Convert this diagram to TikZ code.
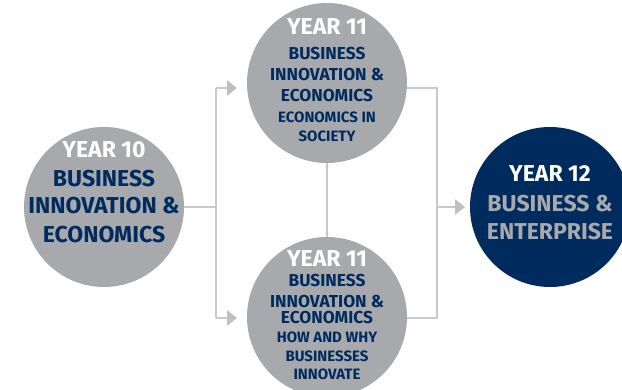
\documentclass[tikz,border=0pt]{standalone}
\usepackage{fontspec}
\setmainfont{Fira Sans}
\usetikzlibrary{arrows.meta}
\definecolor{navy}{RGB}{0,43,94}
\definecolor{circgray}{RGB}{167,169,172}
\definecolor{linegray}{RGB}{200,201,204}
\definecolor{tipgray}{RGB}{190,191,193}
\tikzset{
  circ/.style={circle,minimum size=160pt,inner sep=0pt,fill=circgray},
  navycirc/.style={circle,minimum size=160pt,inner sep=0pt,fill=navy},
  conn/.style={draw=linegray,line width=2.6pt},
  arr/.style={conn,-{Triangle[length=10pt,width=15pt,color=tipgray]}},
  txt/.style={anchor=base,inner sep=0pt,font=\bfseries},
  big/.style={txt,font=\bfseries\fontsize{23}{26}\selectfont},
  mid/.style={txt,font=\bfseries\fontsize{17.3}{20}\selectfont},
  sml/.style={txt,font=\bfseries\fontsize{15}{18}\selectfont},
}
\begin{document}
\begin{tikzpicture}[x=1pt,y=-1pt]
\useasboundingbox (0,0) rectangle (622,390);
% circles
\node[circ] (c10) at (104,207) {};
\node[circ] (c11a) at (327,83) {};
\node[circ] (c11b) at (327,317) {};
\node[navycirc] (c12) at (550,207) {};
% connectors
\coordinate (jl) at (216,207);
\coordinate (jlt) at (216,88);
\coordinate (jlb) at (216,318);
\coordinate (at) at (237,88);
\coordinate (ab) at (237,318);
\coordinate (jr) at (437,207);
\coordinate (jrt) at (437,88);
\coordinate (jrb) at (437,318);
\coordinate (ar) at (465,207);
\draw[conn] (c10.east) -- (jl);
\draw[conn] (jlt) -- (jlb);
\draw[arr] (jlt) -- (at);
\draw[arr] (jlb) -- (ab);
\draw[conn] (c11a.south) -- (c11b.north);
\draw[conn] (c11a.east |- jrt) -- (jrt) -- (jrb) -- (c11b.east |- jrb);
\draw[arr] (jr) -- (ar);
% Year 10
\node[big,text=white] (t10a) at (104,158) {YEAR 10};
\node[big,text=navy] (t10b) at (104,187) {BUSINESS};
\node[big,text=navy] (t10c) at (104,214) {INNOVATION \&};
\node[big,text=navy] (t10d) at (104,243) {ECONOMICS};
% Year 11 top
\node[big,text=white] (t11a) at (327,35) {YEAR 11};
\node[mid,text=navy] (t11b) at (327,60) {BUSINESS};
\node[mid,text=navy] (t11c) at (327,81) {INNOVATION \&};
\node[mid,text=navy] (t11d) at (327,102) {ECONOMICS};
\node[sml,text=navy] (t11e) at (327,123) {ECONOMICS IN};
\node[sml,text=navy] (t11f) at (327,142) {SOCIETY};
% Year 11 bottom
\node[big,text=white] (t11g) at (327,267) {YEAR 11};
\node[mid,text=navy] (t11h) at (327,287) {BUSINESS};
\node[mid,text=navy] (t11i) at (327,308) {INNOVATION \&};
\node[mid,text=navy] (t11j) at (327,324) {ECONOMICS};
\node[sml,text=navy] (t11k) at (327,343) {HOW AND WHY};
\node[sml,text=navy] (t11l) at (327,362) {BUSINESSES};
\node[sml,text=navy] (t11m) at (327,380) {INNOVATE};
% Year 12
\node[big,text=white] (t12a) at (550,182) {YEAR 12};
\node[big,text=circgray] (t12b) at (550,212) {BUSINESS \&};
\node[big,text=circgray] (t12c) at (550,240) {ENTERPRISE};
\end{tikzpicture}
\end{document}
